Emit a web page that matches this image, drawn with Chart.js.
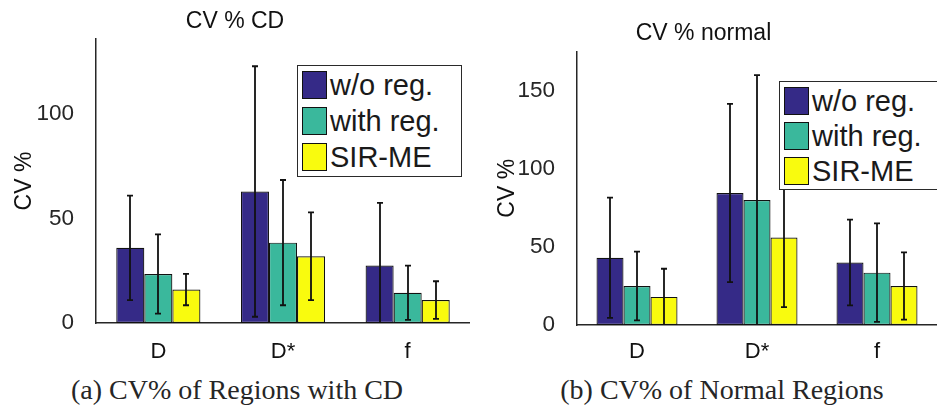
<!DOCTYPE html>
<html>
<head>
<meta charset="utf-8">
<script src="https://cdn.jsdelivr.net/npm/chart.js@4.4.1/dist/chart.umd.min.js"></script>
<style>
  body { margin: 0; width: 937px; height: 410px; overflow: hidden; background: #fff; position: relative; }
  canvas { position: absolute; top: 0; }
  #chartA { left: 0; }
  #chartB { left: 470px; }
  .legend { position: absolute; border: 1.5px solid #2a2a2a; background: #fff; box-sizing: border-box;
            font-family: 'Liberation Sans', Arial, sans-serif; font-size: 29px; color: #1a1a1a; }
  .legend .row { position: absolute; left: 4px; height: 28px; display: flex; align-items: center; white-space: nowrap; }
  .legend .sw { width: 25px; height: 28px; box-sizing: border-box; border: 1.5px solid #111; margin-right: 3px; }
  .caption { position: absolute; top: 374px; font-family: 'Liberation Serif', 'Times New Roman', serif;
             font-size: 28px; color: #262626; text-align: center; white-space: nowrap; }
</style>
</head>
<body>
<canvas id="chartA" width="470" height="370"></canvas>
<canvas id="chartB" width="467" height="370"></canvas>
<div id="legendA" class="legend" style="left:297px; top:65px; width:165px; height:112px;"></div>
<div id="legendB" class="legend" style="left:779px; top:81px; width:175px; height:109px;"></div>
<div class="caption" style="left:71px; width:332px;">(a) CV% of Regions with CD</div>
<div class="caption" style="left:560px; width:324px;">(b) CV% of Normal Regions</div>

<script>
// categories and series
const categories = ['D', 'D*', 'f'];
const seriesNames = ['w/o reg.', 'with reg.', 'SIR-ME'];
const seriesColors = ['#352a87', '#3ab89c', '#f9fb0e'];

// CV % CD (mean and error)
const cdWithout = [36, 63, 27.5];
const cdWithoutErr = [25, 60, 30];
const cdWith = [23.5, 38.5, 14.5];
const cdWithErr = [19, 30, 13];
const cdSir = [16, 32, 11];
const cdSirErr = [7.5, 21, 9];

// CV % normal (mean and error)
const normWithout = [43, 84.5, 40];
const normWithoutErr = [38.5, 57, 27.5];
const normWith = [25, 80, 33.5];
const normWithErr = [22, 80, 31.5];
const normSir = [18, 56, 25];
const normSirErr = [18, 44.5, 21.5];

// tick labels
const cdTicks = [0, 50, 100];
const normTicks = [0, 50, 100, 150];

const sansFont = "'Liberation Sans', Arial, sans-serif";
const ink = '#262626';

// error bar plugin, draws whiskers from dataset.errors
const errorBars = {
  id: 'errorBars',
  afterDatasetsDraw(chart) {
    const ctx = chart.ctx;
    const yScale = chart.scales.y;
    const area = chart.chartArea;
    ctx.save();
    ctx.beginPath();
    ctx.rect(area.left, area.top - 2, area.right - area.left, area.bottom - area.top + 2);
    ctx.clip();
    ctx.strokeStyle = '#111';
    ctx.lineWidth = 1.8;
    chart.data.datasets.forEach((ds, i) => {
      const meta = chart.getDatasetMeta(i);
      meta.data.forEach((bar, j) => {
        const v = ds.data[j];
        const e = ds.errors[j];
        const yTop = yScale.getPixelForValue(v + e);
        const yBot = yScale.getPixelForValue(v - e);
        const x = Math.round(bar.x);
        ctx.beginPath();
        ctx.moveTo(x, yTop);
        ctx.lineTo(x, yBot);
        ctx.moveTo(x - 3, yTop);
        ctx.lineTo(x + 3, yTop);
        ctx.moveTo(x - 3, yBot);
        ctx.lineTo(x + 3, yBot);
        ctx.stroke();
      });
    });
    ctx.restore();
  }
};

function makeChart(id, title, values, errors, ticks, cfg) {
  const datasets = seriesNames.map((name, i) => ({
    label: name,
    data: values[i],
    errors: errors[i],
    backgroundColor: seriesColors[i],
    borderColor: '#111',
    borderWidth: 1.2,
    borderSkipped: false
  }));

  return new Chart(document.getElementById(id), {
    type: 'bar',
    data: { labels: categories, datasets: datasets },
    plugins: [errorBars],
    options: {
      responsive: false,
      animation: false,
      layout: { padding: 0 },
      datasets: { bar: { categoryPercentage: 0.675, barPercentage: 1 } },
      plugins: {
        legend: { display: false },
        tooltip: { enabled: false },
        title: {
          display: true,
          text: title,
          color: '#111',
          font: { family: sansFont, size: 23, weight: 'normal', lineHeight: 1.2 },
          padding: cfg.titlePad
        }
      },
      scales: {
        x: {
          grid: { display: false },
          border: { display: true, color: ink, width: 1.5 },
          ticks: { color: '#111', padding: cfg.xPad, font: { family: sansFont, size: 22 } },
          afterFit: s => { s.height = cfg.xHeight; }
        },
        y: {
          min: 0,
          max: cfg.yMax,
          grid: { display: false },
          border: { display: true, color: ink, width: 1.5 },
          afterBuildTicks: s => { s.ticks = ticks.map(v => ({ value: v })); },
          ticks: { color: ink, padding: 14, font: { family: sansFont, size: 22.5 } },
          title: {
            display: true,
            text: 'CV %',
            color: '#111',
            font: { family: sansFont, size: 23, lineHeight: 1.2 },
            padding: { top: cfg.yTitlePad, bottom: 0 }
          },
          afterFit: s => { s.width = cfg.yWidth; }
        }
      }
    }
  });
}

makeChart('chartA', 'CV % CD',
  [cdWithout, cdWith, cdSir],
  [cdWithoutErr, cdWithErr, cdSirErr],
  cdTicks,
  { titlePad: { top: 8, bottom: 3.5 }, xPad: 8, xHeight: 47, yMax: 136, yWidth: 96, yTitlePad: 11 });

makeChart('chartB', 'CV % normal',
  [normWithout, normWith, normSir],
  [normWithoutErr, normWithErr, normSirErr],
  normTicks,
  { titlePad: { top: 19.5, bottom: 4.5 }, xPad: 6, xHeight: 45, yMax: 175, yWidth: 107, yTitlePad: 24 });

// legends inside the plots
function buildLegend(elId, top0, pitch) {
  const el = document.getElementById(elId);
  seriesNames.forEach((name, i) => {
    const row = document.createElement('div');
    row.className = 'row';
    row.style.top = (top0 + i * pitch) + 'px';
    row.innerHTML = `<span class="sw" style="background:${seriesColors[i]}"></span><span>${name}</span>`;
    el.appendChild(row);
  });
}

buildLegend('legendA', 5, 36);
buildLegend('legendB', 5, 35);
</script>
</body>
</html>
